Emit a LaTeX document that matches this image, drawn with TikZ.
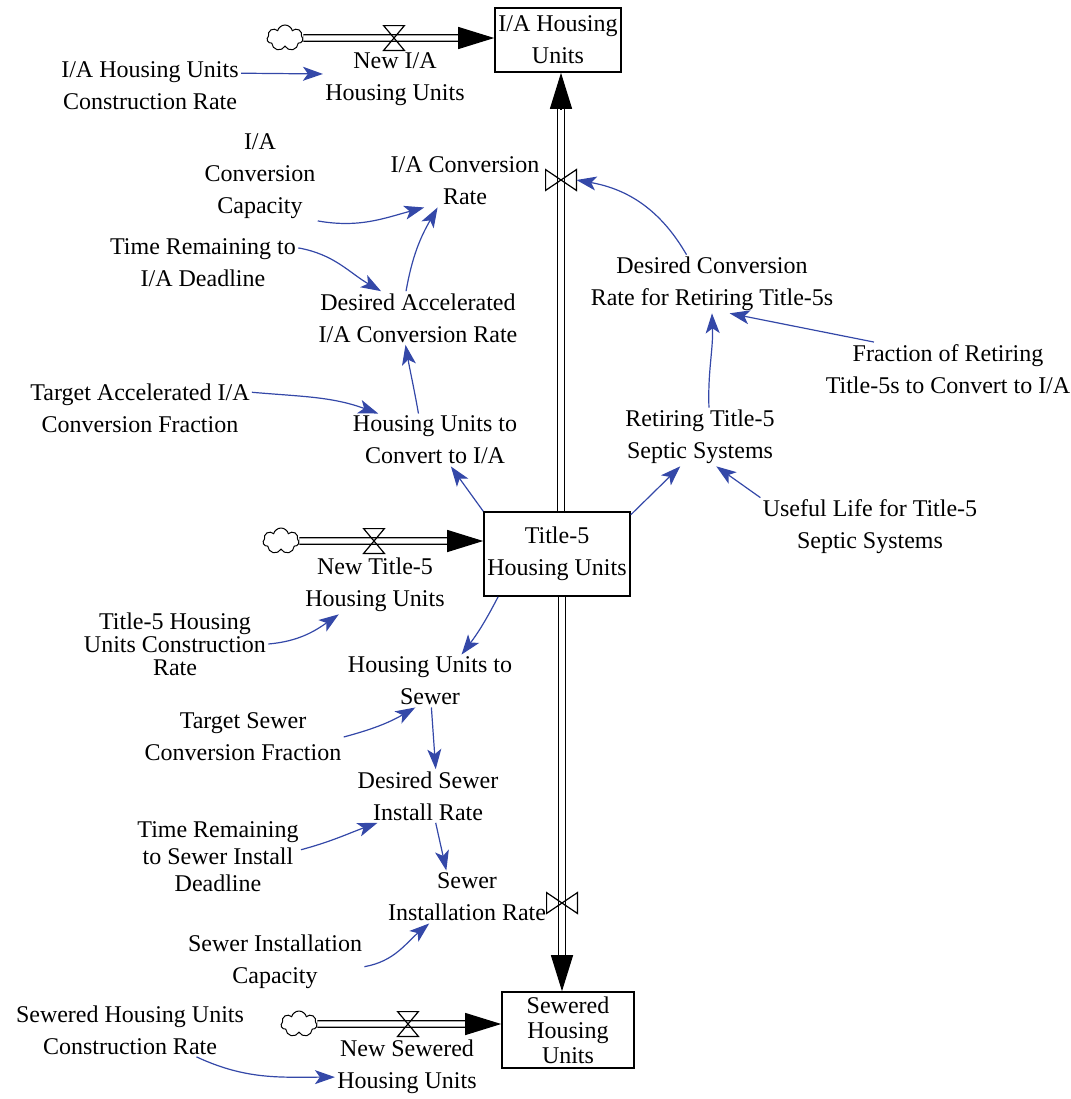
\documentclass[tikz,border=0pt]{standalone}
\usepackage{fontspec}
\setmainfont{Liberation Serif}
\usepackage{xcolor}
\usetikzlibrary{arrows.meta,shapes.symbols}
\definecolor{linkblue}{RGB}{52,72,168}
\tikzset{
	sdvar/.style={align=center,inner sep=1pt,font=\fontsize{12}{16}\selectfont},
	sdstock/.style={draw=black,line width=0.8pt,align=center,inner sep=1pt,font=\fontsize{12}{16}\selectfont},
	sdcloud/.style={cloud,cloud puffs=7,aspect=1.4,draw=black,line width=0.5pt,minimum width=18pt,minimum height=13pt,inner sep=0pt},
	sdhvalve/.style={inner sep=0pt,minimum width=10pt,minimum height=12pt},
	sdvvalve/.style={inner sep=0pt,minimum width=15pt,minimum height=10pt},
	sdvalveline/.style={draw=black,line width=0.6pt,line join=miter},
	sdpipe/.style={draw=black,line width=0.6pt,double=white,double distance=2.6pt},
	sdtip/.style={draw=black,line width=0.6pt,-{Triangle[length=18pt,width=11pt]}},
	sdlink/.style={draw=linkblue,line width=0.6pt,-{Stealth[length=10pt,width=7pt,inset=2.5pt]}}
}
\begin{document}
\begin{tikzpicture}[x=0.5pt,y=0.5pt]
	\useasboundingbox (0,0) rectangle (1071,-1099);
	% stocks
	\node[sdstock,minimum width=63pt,minimum height=32pt] (ia) at (558,-40) {I/A Housing\\Units};
	\node[sdstock,minimum width=73pt,minimum height=42pt] (t5) at (557,-554) {Title-5\\Housing Units};
	\node[sdstock,minimum width=66pt,minimum height=38pt,font=\fontsize{12}{12.5}\selectfont] (sw) at (568,-1030) {Sewered\\Housing\\Units};
	% sources
	\node[sdcloud] (cia) at (285,-38) {};
	\node[sdcloud] (ct5) at (281,-541) {};
	\node[sdcloud] (csw) at (299,-1024) {};
	% valves
	\node[sdhvalve] (vnia) at (394,-38) {};
	\node[sdhvalve] (vnt5) at (374,-541) {};
	\node[sdhvalve] (vnsw) at (408,-1024) {};
	\node[sdvvalve] (vconv) at (561,-180) {};
	\node[sdvvalve] (vsewer) at (562,-903) {};
	% pipes
	\coordinate (iain) at (cia -| ia.west);
	\coordinate (t5in) at (ct5 -| t5.west);
	\coordinate (swin) at (csw -| sw.west);
	\draw[sdpipe,shorten >=17pt] (cia) -- (iain);
	\draw[sdtip] ([xshift=-18pt]iain) -- (iain);
	\draw[sdpipe,shorten >=17pt] (ct5) -- (t5in);
	\draw[sdtip] ([xshift=-18pt]t5in) -- (t5in);
	\draw[sdpipe,shorten >=17pt] (csw) -- (swin);
	\draw[sdtip] ([xshift=-18pt]swin) -- (swin);
	\coordinate (t5top) at (t5.north -| vconv);
	\coordinate (iabot) at (ia.south -| vconv);
	\draw[sdpipe,shorten >=17pt] (t5top) -- (iabot);
	\draw[sdtip] ([yshift=-18pt]iabot) -- (iabot);
	\coordinate (t5bot) at (t5.south -| vsewer);
	\coordinate (swtop) at (sw.north -| vsewer);
	\draw[sdpipe,shorten >=17pt] (t5bot) -- (swtop);
	\draw[sdtip] ([yshift=18pt]swtop) -- (swtop);
	\draw[sdvalveline] (vnia.north west) -- (vnia.north east) -- (vnia.south west) -- (vnia.south east) -- cycle;
	\draw[sdvalveline] (vnt5.north west) -- (vnt5.north east) -- (vnt5.south west) -- (vnt5.south east) -- cycle;
	\draw[sdvalveline] (vnsw.north west) -- (vnsw.north east) -- (vnsw.south west) -- (vnsw.south east) -- cycle;
	\draw[sdvalveline] (vconv.north west) -- (vconv.south west) -- (vconv.north east) -- (vconv.south east) -- cycle;
	\draw[sdvalveline] (vsewer.north west) -- (vsewer.south west) -- (vsewer.north east) -- (vsewer.south east) -- cycle;
	% variables
	\node[sdvar] (iacr) at (150,-86) {I/A Housing Units\\Construction Rate};
	\node[sdvar] (newia) at (395,-79) {New I/A\\Housing Units};
	\node[sdvar] (iacap) at (260,-176) {I/A\\Conversion\\Capacity};
	\node[sdvar] (iaconv) at (465,-181) {I/A Conversion\\Rate};
	\node[sdvar] (trid) at (203,-263) {Time Remaining to\\I/A Deadline};
	\node[sdvar] (daicr) at (418,-318) {Desired Accelerated\\I/A Conversion Rate};
	\node[sdvar] (dcrr) at (712,-284) {Desired Conversion\\Rate for Retiring Title-5s};
	\node[sdvar] (frac) at (948,-369) {Fraction of Retiring\\Title-5s to Convert to I/A};
	\node[sdvar] (tafr) at (140,-408) {Target Accelerated I/A\\Conversion Fraction};
	\node[sdvar] (hucia) at (435,-440) {Housing Units to\\Convert to I/A};
	\node[sdvar] (ret) at (700,-437) {Retiring Title-5\\Septic Systems};
	\node[sdvar] (ulife) at (870,-527) {Useful Life for Title-5\\Septic Systems};
	\node[sdvar] (newt5) at (375,-585) {New Title-5\\Housing Units};
	\node[sdvar,font=\fontsize{12}{11.5}\selectfont] (t5cr) at (175,-644) {Title-5 Housing\\Units Construction\\Rate};
	\node[sdvar] (husw) at (430,-681) {Housing Units to\\Sewer};
	\node[sdvar] (tsfr) at (243,-737) {Target Sewer\\Conversion Fraction};
	\node[sdvar] (dsir) at (428,-796) {Desired Sewer\\Install Rate};
	\node[sdvar,font=\fontsize{12}{13.5}\selectfont] (trsd) at (218,-857) {Time Remaining\\to Sewer Install\\Deadline};
	\node[sdvar] (swir) at (467,-897) {Sewer\\Installation Rate};
	\node[sdvar] (swcap) at (275,-962) {Sewer Installation\\Capacity};
	\node[sdvar] (swcr) at (130,-1030) {Sewered Housing Units\\Construction Rate};
	\node[sdvar] (newsw) at (407,-1067) {New Sewered\\Housing Units};
	% links
	\draw[sdlink] (iacr.8) -- (newia.176);
	\draw[sdlink] (iacap.south east) to[out=-10,in=195] (iaconv.213);
	\draw[sdlink] (trid.9) to[out=-10,in=150] (daicr.144);
	\draw[sdlink] (daicr.114) to[out=80,in=240] (iaconv.224);
	\draw[sdlink] (dcrr.131) to[out=120,in=-10] (vconv.east);
	\draw[sdlink] (frac.160) -- (dcrr.-59);
	\draw[sdlink] (ret.73) to[out=92,in=-88] (dcrr.south);
	\draw[sdlink] (t5.28) -- (ret.236);
	\draw[sdlink] (ulife.165) -- (ret.-61);
	\draw[sdlink] (t5.north west) -- (hucia.-59);
	\draw[sdlink] (hucia.122) to[out=100,in=-80] (daicr.245);
	\draw[sdlink] (tafr.8) to[out=-5,in=160] (hucia.155);
	\draw[sdlink] (t5cr.east) to[out=5,in=215] (newt5.219);
	\draw[sdlink] (t5.216) to[bend left=5] (husw.40);
	\draw[sdlink] (tsfr.east) to[out=15,in=210] (husw.241);
	\draw[sdlink] (husw.-87) -- (dsir.74);
	\draw[sdlink] (trsd.5) to[out=15,in=200] (dsir.208);
	\draw[sdlink] (dsir.-74) -- (swir.128);
	\draw[sdlink] (swcap.-3) to[out=10,in=220] (swir.215);
	\draw[sdlink] (swcr.-22) to[out=-25,in=180] (newsw.188);
\end{tikzpicture}
\end{document}
